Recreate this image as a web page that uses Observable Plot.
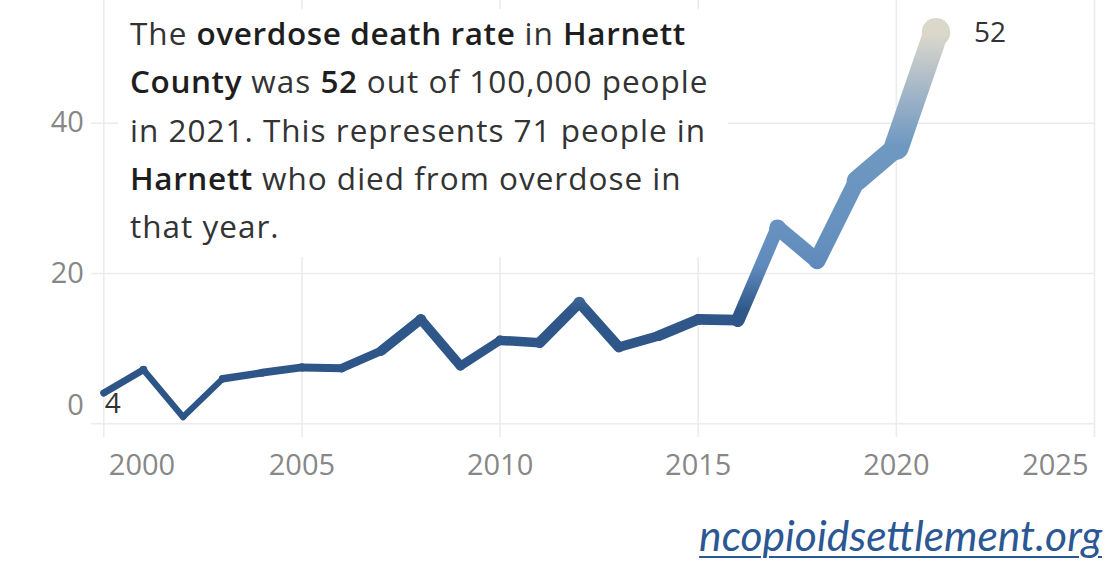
<!DOCTYPE html>
<html>
<head>
<meta charset="utf-8">
<script src="https://cdn.jsdelivr.net/npm/d3@7"></script>
<script src="https://cdn.jsdelivr.net/npm/@observablehq/plot@0.6"></script>
<style>
  html, body { margin: 0; padding: 0; background: #fff; }
  #wrap { position: relative; width: 1116px; height: 563px; overflow: hidden; }
  #note {
    position: absolute; left: 118px; top: 9px; width: 610px; height: 248px;
    background: #fff; box-sizing: border-box; padding-left: 12px;
    font-family: "Open Sans", "Noto Sans", sans-serif; font-size: 31.5px; line-height: 48.3px;
    letter-spacing: 1px; color: #333; white-space: nowrap;
  }
  #note b { font-weight: 600; color: #1e1e1e; letter-spacing: 0.6px; }
  #foot {
    position: absolute; right: 14px; top: 510px;
    font-family: Lato, "Open Sans", sans-serif; font-style: italic; font-size: 42.5px; line-height: 50px;
    color: #2b5794; text-decoration: underline; text-underline-offset: 5px; text-decoration-thickness: 2px;
  }
</style>
</head>
<body>
<div id="wrap">
  <div id="chart"></div>
  <div id="note">The <b>overdose death rate</b> in <b>Harnett</b><br><b>County</b> was <b>52</b> out of 100,000 people<br>in 2021. This represents 71 people in<br><b>Harnett</b> who died from overdose in<br>that year.</div>
  <div id="foot">ncopioidsettlement.org</div>
</div>
<script>
// ---- data ----
const years = [2000, 2001, 2002, 2003, 2004, 2005, 2006, 2007, 2008, 2009, 2010,
               2011, 2012, 2013, 2014, 2015, 2016, 2017, 2018, 2019, 2020, 2021];
const rates = [4.1, 7.2, 0.9, 6.0, 6.8, 7.5, 7.4, 9.7, 13.9, 7.7, 11.1,
               10.8, 16.1, 10.2, 11.7, 13.9, 13.8, 26.1, 21.7, 32.3, 36.8, 52.1];
const xTicks = [2000, 2005, 2010, 2015, 2020, 2025];
const yTicks = [0, 20, 40];

// ---- styles ----
const gradStops = [
  [0, "#2d5486"], [15, "#2f5789"], [21, "#5f8bbc"], [26, "#6792bf"],
  [37, "#6f98c1"], [44, "#a1b5c7"], [52, "#dbd8cb"]
];
const widthOf = v => 4.5 + 0.46 * v;
const font = "'Open Sans', 'Noto Sans', sans-serif";

const data = years.map((year, i) => ({year, rate: rates[i]}));
const segs = d3.pairs(data);
const fmt = d3.format(".0f");

const plot = Plot.plot({
  width: 1116,
  height: 500,
  marginLeft: 103.3,
  marginRight: 22,
  marginTop: 10,
  marginBottom: 76.7,
  style: {fontFamily: font, background: "transparent", overflow: "visible"},
  x: {domain: [2000, 2025]},
  y: {domain: [0, 55]},
  r: {type: "identity"},
  marks: [
    Plot.ruleX(xTicks, {stroke: "#ececec", strokeWidth: 1.6, insetTop: -10, insetBottom: -13.7}),
    Plot.ruleY(yTicks, {stroke: "#ececec", strokeWidth: 1.6, insetLeft: -12.3}),
    Plot.axisY({ticks: [20, 40], tickSize: 0, tickPadding: 20, fontSize: 29, fill: "#878787", label: null}),
    Plot.axisY({ticks: [0], tickSize: 0, tickPadding: 20, dy: -18, fontSize: 29, fill: "#878787", label: null}),
    Plot.axisX({ticks: [2005, 2010, 2015, 2020], tickSize: 0, tickPadding: 31, fontSize: 29, fill: "#878787", tickFormat: "d", label: null}),
    Plot.axisX({ticks: [2000], tickSize: 0, tickPadding: 31, dx: 5, textAnchor: "start", fontSize: 29, fill: "#878787", tickFormat: "d", label: null}),
    Plot.axisX({ticks: [2025], tickSize: 0, tickPadding: 31, dx: -6, textAnchor: "end", fontSize: 29, fill: "#878787", tickFormat: "d", label: null}),
    Plot.link(segs, {
      x1: p => p[0].year, y1: p => p[0].rate,
      x2: p => p[1].year, y2: p => p[1].rate,
      strokeWidth: p => widthOf((p[0].rate + p[1].rate) / 2),
      stroke: "url(#rateGrad)", strokeLinecap: "round"
    }),
    Plot.dot(data, {x: "year", y: "rate", r: d => widthOf(d.rate) / 2, fill: "url(#rateGrad)", stroke: null}),
    Plot.text([data[0]], {x: "year", y: "rate", text: d => fmt(d.rate), textAnchor: "start", dx: 1, dy: 11, fontSize: 28, fill: "#333"}),
    Plot.text([data[data.length - 1]], {x: "year", y: "rate", text: d => fmt(d.rate), textAnchor: "start", dx: 38, dy: 1, fontSize: 28, fill: "#333"})
  ]
});

const yScale = plot.scale("y");
const defs = d3.select(plot).insert("defs", ":first-child");
const grad = defs.append("linearGradient")
  .attr("id", "rateGrad")
  .attr("gradientUnits", "userSpaceOnUse")
  .attr("x1", 0).attr("x2", 0)
  .attr("y1", yScale.apply(0)).attr("y2", yScale.apply(52));
gradStops.forEach(([v, c]) => grad.append("stop").attr("offset", v / 52).attr("stop-color", c));

document.getElementById("chart").appendChild(plot);
</script>
</body>
</html>
